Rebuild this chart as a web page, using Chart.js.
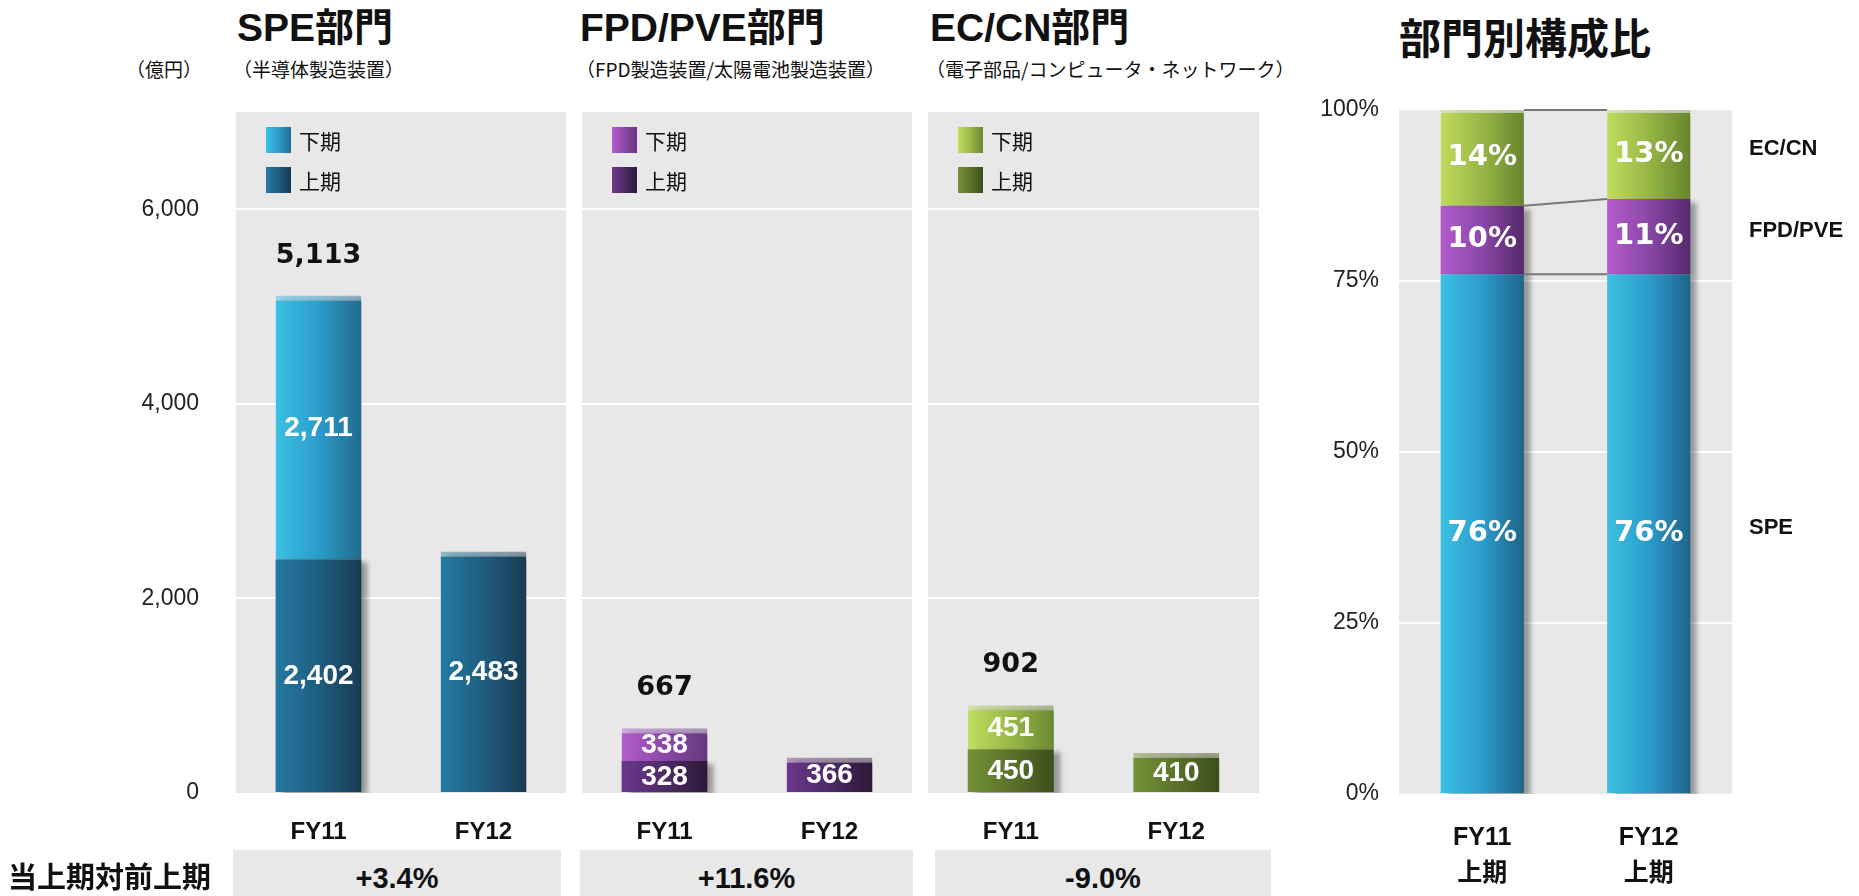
<!DOCTYPE html>
<html lang="ja">
<head>
<meta charset="utf-8">
<title>部門別売上高 上期比較</title>
<script src="https://cdn.jsdelivr.net/npm/chart.js@4.4.1/dist/chart.umd.min.js"></script>
<style>
  html, body { margin: 0; padding: 0; background: #fff; }
  body { width: 1859px; height: 896px; position: relative; overflow: hidden; color: #111;
         font-family: "Liberation Sans", "Noto Sans CJK JP", sans-serif; }
  canvas { position: absolute; }
  .abs { position: absolute; white-space: nowrap; line-height: 1; }
  .title { font-size: 39px; font-weight: 700; }
  .sub { font-size: 19px; font-family: "Noto Sans CJK JP", sans-serif; }
  .box { position: absolute; top: 850px; height: 46px; background: #e8e8e8;
         font-size: 29px; font-weight: 700; text-align: center; line-height: 56px; }
</style>
</head>
<body>
<div class="abs sub" style="left:126px; top:59px;">（億円）</div>
<div class="abs title" style="left:237px; top:8px;">SPE部門</div>
<div class="abs sub" style="left:233px; top:59px;">（半導体製造装置）</div>
<div class="abs title" style="left:580px; top:8px;">FPD/PVE部門</div>
<div class="abs sub" style="left:576px; top:59px;">（FPD製造装置/太陽電池製造装置）</div>
<div class="abs title" style="left:930px; top:8px;">EC/CN部門</div>
<div class="abs sub" style="left:926px; top:59px;">（電子部品/コンピュータ・ネットワーク）</div>
<div class="abs title" style="left:1399px; top:15px; font-size:42px; font-family:'Noto Sans CJK JP', sans-serif;">部門別構成比</div>

<canvas id="spe" width="566" height="760" style="left:0; top:100px;"></canvas>
<canvas id="fpd" width="330" height="760" style="left:582px; top:100px;"></canvas>
<canvas id="ec" width="331" height="760" style="left:928px; top:100px;"></canvas>
<canvas id="ratio" width="579" height="806" style="left:1280px; top:90px;"></canvas>

<div class="abs" style="left:8px; top:861px; font-size:29px; font-weight:700; font-family:'Noto Sans CJK JP', sans-serif;">当上期対前上期</div>
<div id="yoy"></div>

<script>
// 売上高（億円）: 上期 / 下期
const periods = ['FY11', 'FY12'];
const speFirst = [2402, 2483];
const speSecond = [2711, null];
const speTotal = [5113, null];
const fpdFirst = [328, 366];
const fpdSecond = [338, null];
const fpdTotal = [667, null];
const ecFirst = [450, 410];
const ecSecond = [451, null];
const ecTotal = [902, null];
const leftTicks = [0, 2000, 4000, 6000];

// 当上期対前上期
const yoyChange = ['+3.4%', '+11.6%', '-9.0%'];

// 部門別構成比（上期, %）
const ratioPeriods = [['FY11', '上期'], ['FY12', '上期']];
const ratioSpe = [76, 76];
const ratioFpd = [10, 11];
const ratioEc = [14, 13];
const ratioTicks = [0, 25, 50, 75, 100];

const colors = {
  spe: { first: ['#2479a0', '#1f5e80', '#183b50'], second: ['#3cc0e2', '#2c9ccc', '#216b8e'] },
  fpd: { first: ['#6b388c', '#4e2a66', '#2d1937'], second: ['#b25dcd', '#8c48a8', '#66387f'] },
  ec:  { first: ['#749238', '#5a7229', '#3b4f1d'], second: ['#c3de5f', '#98b847', '#6a8832'] },
  ratioSpe: ['#3cc0e2', '#2c9ccc', '#1f6488'],
  ratioFpd: ['#b25dcd', '#8a47a6', '#55296b'],
  ratioEc: ['#c0dc5c', '#97b646', '#67852e']
};

Chart.defaults.font.family = '"Liberation Sans", "Noto Sans CJK JP", sans-serif';
Chart.defaults.color = '#111';

function withAlpha(hex, a) {
  const n = parseInt(hex.slice(1), 16);
  return `rgba(${(n >> 16) & 255}, ${(n >> 8) & 255}, ${n & 255}, ${a})`;
}

// horizontal gradient across each bar
function barFill(stops, pct, alpha) {
  return (c) => {
    const chart = c.chart;
    const xs = chart.scales.x;
    if (!chart.chartArea || !xs || c.dataIndex === undefined) return stops[0];
    const w = xs.width / chart.data.labels.length * pct;
    const cx = xs.getPixelForValue(c.dataIndex);
    const g = chart.ctx.createLinearGradient(cx - w / 2, 0, cx + w / 2, 0);
    stops.forEach((s, k) => g.addColorStop(k / (stops.length - 1), alpha ? withAlpha(s, alpha) : s));
    return g;
  };
}

// light band only on the top segment of each stack
function topBand(size) {
  return (c) => {
    if (c.dataIndex === undefined) return 0;
    const sets = c.chart.data.datasets;
    for (let d = sets.length - 1; d >= 0; d--) {
      if (sets[d].data[c.dataIndex] != null) {
        return d === c.datasetIndex ? { top: size, left: 0, right: 0, bottom: 0 } : 0;
      }
    }
    return 0;
  };
}

const panelBg = {
  id: 'panelBg',
  beforeDraw(chart) {
    const { ctx, chartArea: a } = chart;
    ctx.save();
    ctx.fillStyle = '#e8e8e8';
    ctx.fillRect(a.left, a.top, a.right - a.left, a.bottom - a.top);
    ctx.restore();
  }
};

const barShadow = {
  id: 'barShadow',
  beforeDatasetsDraw(chart) {
    const ctx = chart.ctx;
    ctx.save();
    ctx.shadowColor = 'rgba(0,0,0,0.35)';
    ctx.shadowOffsetX = 7;
    ctx.shadowOffsetY = 3;
    ctx.shadowBlur = 5;
  },
  afterDatasetsDraw(chart) {
    chart.ctx.restore();
  }
};

const segLabels = {
  id: 'segLabels',
  afterDatasetsDraw(chart, args, opts) {
    const ctx = chart.ctx;
    ctx.save();
    ctx.textAlign = 'center';
    ctx.textBaseline = 'middle';
    ctx.font = 'bold 28px "Liberation Sans", Arial, sans-serif';
    ctx.fillStyle = '#fff';
    let tops = [];
    chart.data.datasets.forEach((ds, di) => {
      chart.getDatasetMeta(di).data.forEach((bar, i) => {
        if (ds.data[i] == null) return;
        ctx.fillText(ds.data[i].toLocaleString('en-US'), bar.x, (bar.y + bar.base) / 2 + 1);
        tops[i] = tops[i] === undefined ? bar.y : Math.min(tops[i], bar.y);
      });
    });
    ctx.font = 'bold 27px "DejaVu Sans", sans-serif';
    ctx.fillStyle = '#111';
    (opts.totals || []).forEach((t, i) => {
      if (t == null) return;
      const bar = chart.getDatasetMeta(0).data[i];
      ctx.fillText(t.toLocaleString('en-US'), bar.x, tops[i] - 40);
    });
    ctx.restore();
  }
};

const segLegend = {
  id: 'segLegend',
  afterDraw(chart, args, opts) {
    const { ctx, chartArea: a } = chart;
    const sets = chart.data.datasets.slice().reverse();
    ctx.save();
    ctx.font = '21px "Noto Sans CJK JP", sans-serif';
    ctx.textBaseline = 'middle';
    sets.forEach((ds, k) => {
      const x = a.left + 30, y = a.top + 15 + k * 40;
      const stops = opts.swatches[ds.label];
      const g = ctx.createLinearGradient(x, 0, x + 25, 0);
      stops.forEach((s, j) => g.addColorStop(j / (stops.length - 1), s));
      ctx.fillStyle = g;
      ctx.fillRect(x, y, 25, 26);
      ctx.fillStyle = '#111';
      ctx.fillText(ds.label, x + 33, y + 14);
    });
    ctx.restore();
  }
};

function segmentChart(id, first, second, total, pal, withAxis) {
  const pct = 0.52;
  return new Chart(document.getElementById(id), {
    type: 'bar',
    data: {
      labels: periods,
      datasets: [
        { label: '上期', data: first, backgroundColor: barFill(pal.first, pct),
          borderColor: barFill(pal.first, pct, 0.45), borderWidth: topBand(5),
          barPercentage: pct, categoryPercentage: 1 },
        { label: '下期', data: second, backgroundColor: barFill(pal.second, pct),
          borderColor: barFill(pal.second, pct, 0.45), borderWidth: topBand(5),
          barPercentage: pct, categoryPercentage: 1 }
      ]
    },
    options: {
      responsive: false,
      animation: false,
      layout: { padding: { top: 12, left: 0, right: 0, bottom: 0 } },
      plugins: {
        legend: { display: false },
        tooltip: { enabled: false },
        segLabels: { totals: total },
        segLegend: { swatches: { '上期': pal.first, '下期': pal.second } }
      },
      scales: {
        x: {
          stacked: true,
          grid: { display: false },
          border: { display: false },
          ticks: { font: { size: 24, weight: 'bold' }, color: '#111', padding: 17 },
          afterFit: (s) => { s.height = 67; }
        },
        y: {
          stacked: true,
          min: 0,
          max: 7000,
          afterBuildTicks: (s) => { s.ticks = leftTicks.map(v => ({ value: v })); },
          grid: {
            color: (c) => (c.tick && c.tick.value > 0) ? '#ffffff' : 'rgba(0,0,0,0)',
            lineWidth: 2,
            drawTicks: false
          },
          border: { display: false },
          ticks: {
            display: withAxis,
            padding: 37,
            color: '#222',
            font: { size: 23 },
            callback: (v) => v.toLocaleString('en-US')
          },
          afterFit: (s) => {
            s.width = withAxis ? 236 : 0;
            s.paddingTop = 0;
            s.paddingBottom = 0;
          }
        }
      }
    },
    plugins: [panelBg, barShadow, segLabels, segLegend]
  });
}

segmentChart('spe', speFirst, speSecond, speTotal, colors.spe, true);
segmentChart('fpd', fpdFirst, fpdSecond, fpdTotal, colors.fpd, false);
segmentChart('ec', ecFirst, ecSecond, ecTotal, colors.ec, false);

const ratioLabels = {
  id: 'ratioLabels',
  afterDatasetsDraw(chart) {
    const { ctx, chartArea: a } = chart;
    const metas = chart.data.datasets.map((ds, d) => chart.getDatasetMeta(d));
    ctx.save();
    // connectors between the two bars
    ctx.strokeStyle = '#777';
    ctx.lineWidth = 2;
    metas.forEach((m) => {
      const b0 = m.data[0], b1 = m.data[1];
      ctx.beginPath();
      ctx.moveTo(b0.x + b0.width / 2, b0.y);
      ctx.lineTo(b1.x - b1.width / 2, b1.y);
      ctx.stroke();
    });
    // percent labels
    ctx.textAlign = 'center';
    ctx.textBaseline = 'middle';
    ctx.font = 'bold 29px "DejaVu Sans", sans-serif';
    ctx.fillStyle = '#fff';
    chart.data.datasets.forEach((ds, d) => {
      metas[d].data.forEach((bar, i) => {
        ctx.fillText(ds.data[i] + '%', bar.x, (bar.y + bar.base) / 2);
      });
    });
    // segment names on the right
    ctx.textAlign = 'left';
    ctx.font = 'bold 22px "Liberation Sans", Arial, sans-serif';
    ctx.fillStyle = '#111';
    chart.data.datasets.forEach((ds, d) => {
      const bar = metas[d].data[1];
      ctx.fillText(ds.label, a.right + 17, (bar.y + bar.base) / 2 - 6);
    });
    ctx.restore();
  }
};

const rPct = 0.5;
new Chart(document.getElementById('ratio'), {
  type: 'bar',
  data: {
    labels: ratioPeriods,
    datasets: [
      { label: 'SPE', data: ratioSpe, backgroundColor: barFill(colors.ratioSpe, rPct),
        barPercentage: rPct, categoryPercentage: 1 },
      { label: 'FPD/PVE', data: ratioFpd, backgroundColor: barFill(colors.ratioFpd, rPct),
        barPercentage: rPct, categoryPercentage: 1 },
      { label: 'EC/CN', data: ratioEc, backgroundColor: barFill(colors.ratioEc, rPct),
        borderColor: barFill(colors.ratioEc, rPct, 0.3), borderWidth: topBand(3),
        barPercentage: rPct, categoryPercentage: 1 }
    ]
  },
  options: {
    responsive: false,
    animation: false,
    layout: { padding: { top: 20, left: 0, right: 127, bottom: 0 } },
    plugins: { legend: { display: false }, tooltip: { enabled: false } },
    scales: {
      x: {
        stacked: true,
        grid: { display: false },
        border: { display: false },
        ticks: { font: { size: 25, weight: 'bold', lineHeight: 1.44 }, color: '#111', padding: 18 },
        afterFit: (s) => { s.height = 102; }
      },
      y: {
        stacked: true,
        min: 0,
        max: 100,
        afterBuildTicks: (s) => { s.ticks = ratioTicks.map(v => ({ value: v })); },
        grid: {
          color: (c) => (c.tick && c.tick.value > 0 && c.tick.value < 100) ? '#ffffff' : 'rgba(0,0,0,0)',
          lineWidth: 2,
          drawTicks: false
        },
        border: { display: false },
        ticks: { padding: 20, color: '#222', font: { size: 23 }, callback: (v) => v + '%' },
        afterFit: (s) => {
          s.width = 119;
          s.paddingTop = 0;
          s.paddingBottom = 0;
        }
      }
    }
  },
  plugins: [panelBg, barShadow, ratioLabels]
});

// bottom row: change vs. previous first half
const boxPos = [[233, 328], [580, 333], [935, 336]];
const yoy = document.getElementById('yoy');
yoyChange.forEach((t, i) => {
  const el = document.createElement('div');
  el.className = 'box';
  el.style.left = boxPos[i][0] + 'px';
  el.style.width = boxPos[i][1] + 'px';
  el.textContent = t;
  yoy.appendChild(el);
});
</script>
</body>
</html>
